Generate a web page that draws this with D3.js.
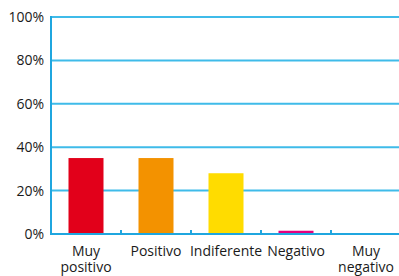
<!DOCTYPE html>
<html>
<head>
<meta charset="utf-8">
<script src="https://cdn.jsdelivr.net/npm/d3@7"></script>
<style>
  body { margin: 0; background: #fff; }
  svg text { font-family: "Open Sans", "Noto Sans", sans-serif; fill: #1a1a1a; }
</style>
</head>
<body>
<svg id="chart" width="399" height="276"></svg>
<script>
// data
var categories = ['Muy positivo', 'Positivo', 'Indiferente', 'Negativo', 'Muy negativo'];
var values = [35, 35, 28, 1.5, 0];
var barColors = ['#e2001a', '#f39200', '#ffdc00', '#e5007d', '#e5007d'];
var yTicks = [0, 20, 40, 60, 80, 100];

var svg = d3.select('#chart');
var padL = 51, padR = 401, padT = 17, padB = 234;

var x = d3.scaleBand().domain(categories).range([padL, padR]).paddingInner(0.5).paddingOuter(0.25);
var xEdge = d3.scaleLinear().domain([0, categories.length]).range([padL, padR]);
var y = d3.scaleLinear().domain([0, 100]).range([padB, padT]);

// gridlines
svg.append('g').selectAll('line')
    .data(yTicks.filter(function (d) { return d > 0; }))
    .enter().append('line')
    .attr('x1', padL).attr('x2', 399)
    .attr('y1', function (d) { return y(d); })
    .attr('y2', function (d) { return y(d); })
    .attr('stroke', '#3fbbe9').attr('stroke-width', 2);

// bars
svg.append('g').selectAll('rect')
    .data(values)
    .enter().append('rect')
    .attr('x', function (d, i) { return x(categories[i]); })
    .attr('width', x.bandwidth())
    .attr('y', function (d) { return y(d); })
    .attr('height', function (d) { return padB - y(d); })
    .attr('fill', function (d, i) { return barColors[i]; });

// y axis line
svg.append('line')
    .attr('x1', padL).attr('x2', padL)
    .attr('y1', padT - 1).attr('y2', padB + 1)
    .attr('stroke', '#1fa6df').attr('stroke-width', 2);

// x axis line + ticks
svg.append('line')
    .attr('x1', padL).attr('x2', 399)
    .attr('y1', padB).attr('y2', padB)
    .attr('stroke', '#1fa6df').attr('stroke-width', 2);
svg.append('g').selectAll('line')
    .data(d3.range(1, categories.length))
    .enter().append('line')
    .attr('x1', function (d) { return xEdge(d); })
    .attr('x2', function (d) { return xEdge(d); })
    .attr('y1', padB - 4).attr('y2', padB)
    .attr('stroke', '#1fa6df').attr('stroke-width', 2);

// y labels
svg.append('g').selectAll('text')
    .data(yTicks)
    .enter().append('text')
    .attr('x', 44)
    .attr('y', function (d) { return y(d); })
    .attr('dy', '0.36em')
    .attr('text-anchor', 'end')
    .style('font-size', '14px')
    .text(function (d) { return d + '%'; });

// x labels
var xl = svg.append('g').selectAll('text')
    .data(categories)
    .enter().append('text')
    .attr('x', function (d) { return x(d) + x.bandwidth() / 2; })
    .attr('y', 256)
    .attr('text-anchor', 'middle')
    .style('font-size', '14px');
xl.each(function (d) {
    var parts = (d === 'Muy positivo' || d === 'Muy negativo') ? d.split(' ') : [d];
    var t = d3.select(this);
    parts.forEach(function (p, i) {
        t.append('tspan').attr('x', t.attr('x')).attr('dy', i ? 15.5 : 0).text(p);
    });
});
</script>
</body>
</html>
